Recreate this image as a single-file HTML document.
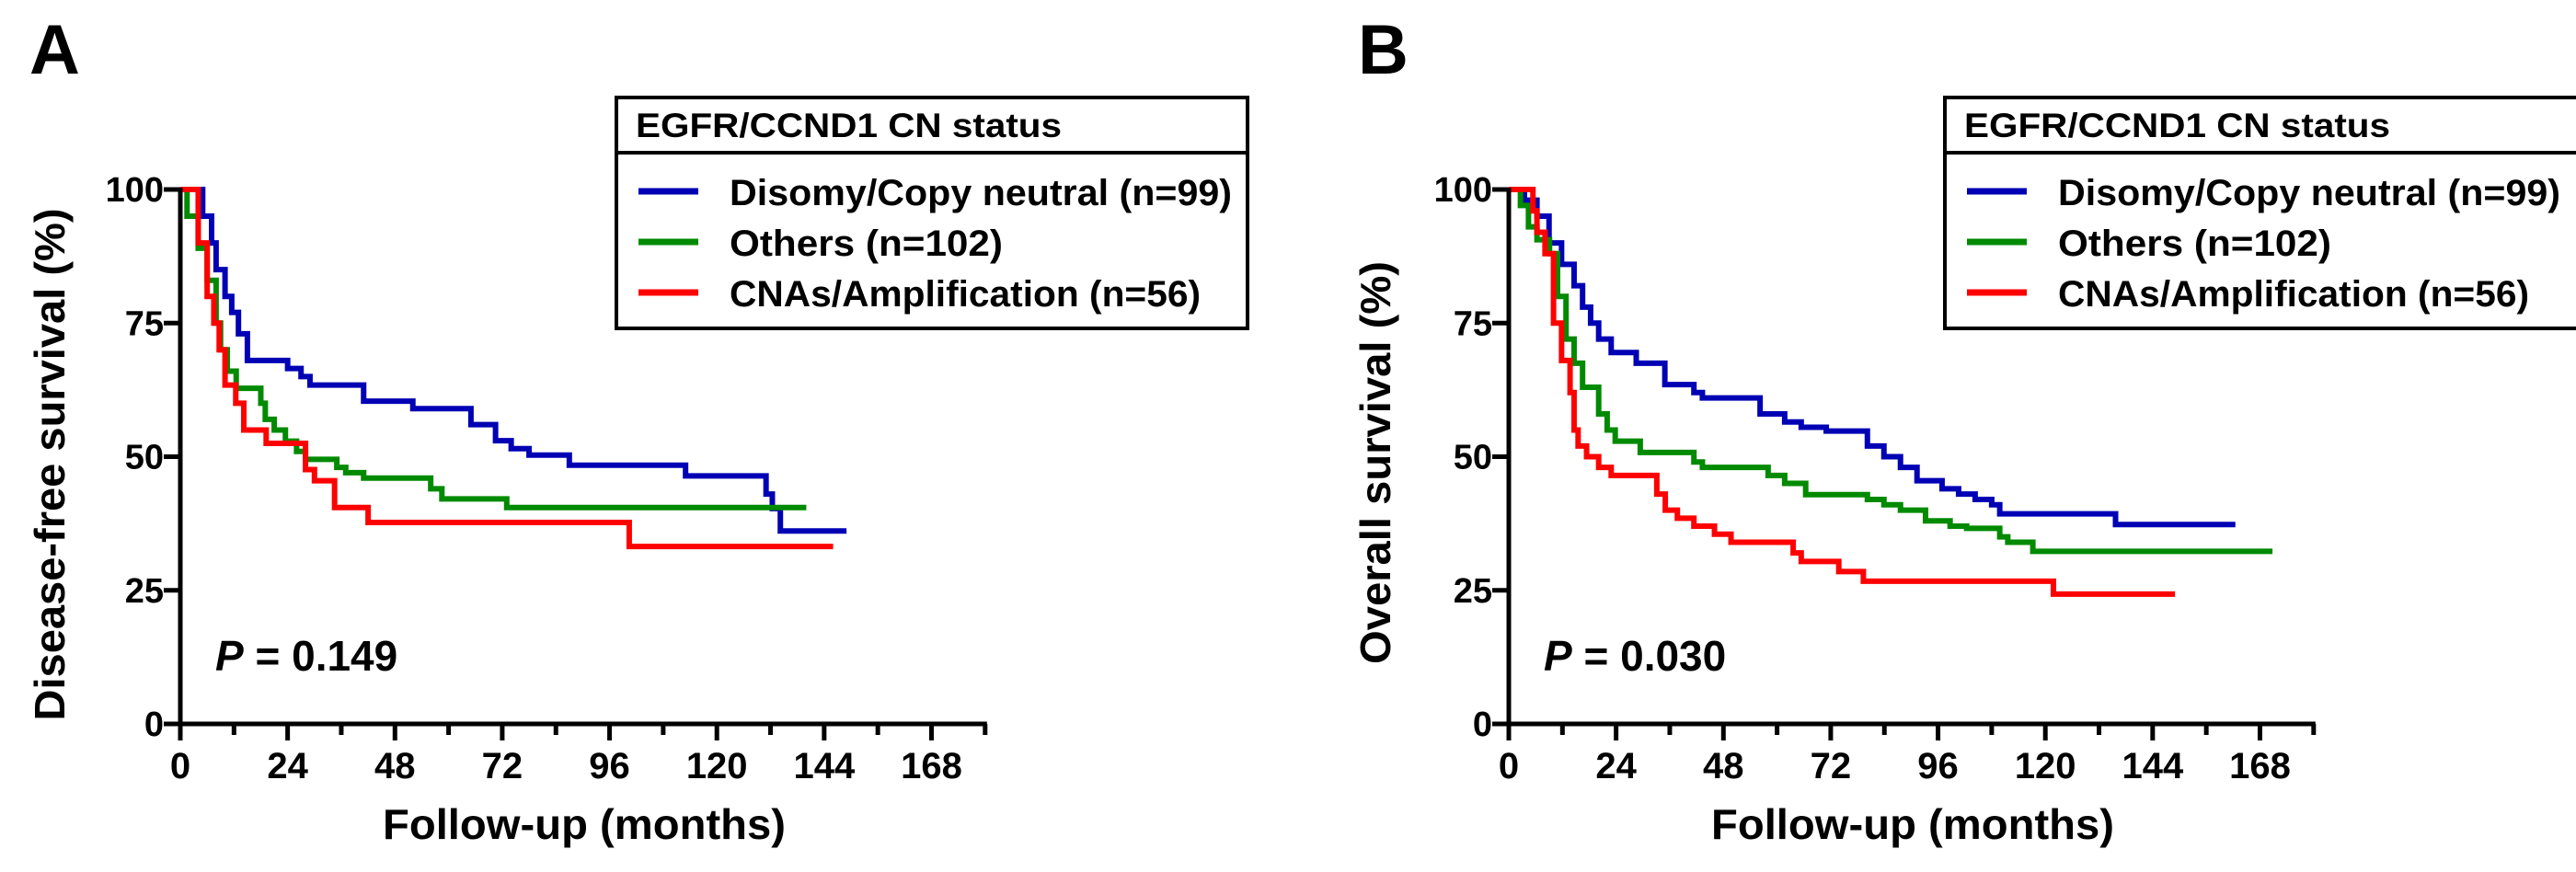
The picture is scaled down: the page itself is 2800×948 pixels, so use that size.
<!DOCTYPE html>
<html><head><meta charset="utf-8"><style>
html,body{margin:0;padding:0;background:#fff;}
svg{display:block;}
text{font-family:"Liberation Sans",Arial,sans-serif;font-weight:bold;fill:#000;}
</style></head>
<body>
<svg id="fig" width="2800" height="948" viewBox="0 0 2800 948"></svg>
<script>
// ---- data (months, survival %) ----
const xTicks = [0, 24, 48, 72, 96, 120, 144, 168];
const yTicks = [0, 25, 50, 75, 100];
const seriesNames = ["Disomy/Copy neutral (n=99)", "Others (n=102)", "CNAs/Amplification (n=56)"];

const aBlueT = [0,5,7,8,10,11.5,13,15,24,27,29,41,52,65,70.5,74,78,87,113,131,132.4,134.2];
const aBlueS = [100,95,90,85,80,77,73,68,66.5,65,63.4,60.4,59,56,53,51.5,50.3,48.4,46.4,43,40.3,36.1];
const aBlueEnd = 149;
const aGreenT = [0,1.5,4,6,8,9,10.5,12.5,18,19,21,23.5,26,28,35,37,41,56,58.5,73];
const aGreenS = [100,95,89,83,75,70,66,62.8,60,57,55,52.9,51,49.5,48,47,46,44,42.1,40.5];
const aGreenEnd = 140;
const aRedT = [0,4,6,7.5,8.7,10,12.4,14.2,19.2,28,30,34.5,42,100.4];
const aRedS = [100,90,80,75,70,63.4,60,55,52.5,47.6,45.5,40.5,37.7,33.2];
const aRedEnd = 146;

const bBlueT = [0,3.5,6.3,9,11.8,14.6,16.5,18.3,20.1,22.9,28.5,34.9,41.4,43.3,56.2,61.7,65.4,71,80.2,83.9,87.6,91.3,96.9,100.6,104.3,108,109.8,135.7];
const bBlueS = [100,98,95,90,86,82,78,75,72,69.5,67.5,63.5,62,61,58,56.5,55.5,54.8,52,50,48,45.5,44,43,42,41,39.3,37.3];
const bBlueEnd = 162.5;
const bGreenT = [0,2.6,4.4,6.3,9.1,10.9,12.8,14.6,16.5,20.1,22,23.8,29.4,41.4,43.3,58,61.7,66.4,80.2,83.9,87.6,93.2,98.7,102.4,109.8,111.6,117.2];
const bGreenS = [100,97,93,90.6,88,80,72,67.5,63,58,55,52.9,50.8,49,48,46.5,45,42.9,42,41,40,38,37,36.6,35,34,32.3];
const bGreenEnd = 170.8;
const bRedT = [0,5.4,6.3,8.1,10,11.8,13.7,14.6,15.5,17.4,20.1,22.9,33.1,35,37.7,41.4,46,49.7,63.6,65.4,73.8,79.3,121.8];
const bRedS = [100,96,92,88,75,68,62,55,52,50,48,46.5,43,40,38.5,37,35.5,34,32,30.4,28.5,26.7,24.3];
const bRedEnd = 149;

const NS = "http://www.w3.org/2000/svg";
const svg = document.getElementById("fig");
const COLORS = ["#0000b4", "#008a00", "#ff0000"];

function mk(tag, attrs, parent, txt) {
  const e = document.createElementNS(NS, tag);
  for (const k in attrs) e.setAttribute(k, attrs[k]);
  if (txt !== undefined) e.textContent = txt;
  (parent || svg).appendChild(e);
  return e;
}

function panel(cfg) {
  const ox = cfg.ox;
  const X0 = ox + 196, PXM = 4.86, Y0 = 787, Y100 = 206;
  const xs = m => X0 + m * PXM;
  const ys = s => Y0 - (Y0 - Y100) * s / 100;
  const g = mk("g", {});
  
  

  const lab = mk("text", {x: ox + 32, y: 80, "font-size": 76}, g, cfg.letter);
  
  

  const sets = cfg.series;
  sets.forEach((sr, i) => {
    let d = "M" + xs(sr.t[0]) + "," + ys(sr.s[0]);
    for (let k = 1; k < sr.t.length; k++) {
      d += " H" + xs(sr.t[k]) + " V" + ys(sr.s[k]);
    }
    d += " H" + xs(sr.end);
    const p = mk("path", {d: d, fill: "none", stroke: COLORS[i], "stroke-width": 6, "stroke-linejoin": "miter"}, g);
    
    
  });

  const ax = mk("g", {stroke: "#000", "stroke-width": 5, fill: "none"}, g);
  
  
  mk("line", {x1: X0, y1: Y100 - 2, x2: X0, y2: Y0 + 2}, ax);
  mk("line", {x1: X0 - 2, y1: Y0, x2: xs(180) + 2, y2: Y0}, ax);
  yTicks.forEach(v => {
    mk("line", {x1: X0 - 18, y1: ys(v), x2: X0, y2: ys(v)}, ax);
    const t = mk("text", {x: X0 - 18, y: ys(v) + 13, "font-size": 38, "text-anchor": "end", stroke: "none"}, g, String(v));
    
    
  });
  for (let m = 0; m <= 180; m += 12) {
    const major = (m % 24 === 0);
    mk("line", {x1: xs(m), y1: Y0, x2: xs(m), y2: Y0 + (major ? 18 : 12)}, ax);
  }
  xTicks.forEach(v => {
    const t = mk("text", {x: xs(v), y: 846, "font-size": 40, "text-anchor": "middle"}, g, String(v));
    
    
  });

  const xt = mk("text", {x: ox + 635, y: 912, "font-size": 46, "text-anchor": "middle", textLength: 438, lengthAdjust: "spacingAndGlyphs"}, g, "Follow-up (months)");
  
  

  const yt = mk("text", {x: 0, y: 0, "font-size": 46, "text-anchor": "middle", textLength: cfg.ylen, lengthAdjust: "spacingAndGlyphs",
    transform: "translate(" + (ox + cfg.ylx) + "," + cfg.ylc + ") rotate(-90)"}, g, cfg.ylabel);
  
  

  const pv = mk("text", {x: ox + 234, y: 729, "font-size": 46}, g);
  
  
  mk("tspan", {"font-style": "italic"}, pv, "P");
  mk("tspan", {}, pv, " = " + cfg.p);

  const lg = mk("g", {}, g);
  
  
  mk("rect", {x: ox + 670, y: 106, width: cfg.lw, height: 251, fill: "#fff", stroke: "#000", "stroke-width": 4}, lg);
  mk("line", {x1: ox + 670, y1: 166, x2: ox + 670 + cfg.lw, y2: 166, stroke: "#000", "stroke-width": 4}, lg);
  const lt = mk("text", {x: ox + 691, y: 149, "font-size": 37, textLength: 463, lengthAdjust: "spacingAndGlyphs"}, lg, "EGFR/CCND1 CN status");
  
  
  const lens = [546, 297, 512];
  seriesNames.forEach((n, i) => {
    const cy = 208 + i * 55;
    const e = mk("g", {}, lg);
    
    
    mk("line", {x1: ox + 694, y1: cy, x2: ox + 759, y2: cy, stroke: COLORS[i], "stroke-width": 7}, e);
    mk("text", {x: ox + 793, y: cy + 15, "font-size": 40, textLength: lens[i], lengthAdjust: "spacingAndGlyphs"}, e, n);
  });
}

panel({ox: 0, id: "dfs", letter: "A", ylabel: "Disease-free survival (%)", ylen: 557, ylx: 70, ylc: 505, p: "0.149", lw: 686,
  series: [{t: aBlueT, s: aBlueS, end: aBlueEnd}, {t: aGreenT, s: aGreenS, end: aGreenEnd}, {t: aRedT, s: aRedS, end: aRedEnd}]});
panel({ox: 1444, id: "os", letter: "B", ylabel: "Overall survival (%)", ylen: 438, ylx: 67, ylc: 503, p: "0.030", lw: 713,
  series: [{t: bBlueT, s: bBlueS, end: bBlueEnd}, {t: bGreenT, s: bGreenS, end: bGreenEnd}, {t: bRedT, s: bRedS, end: bRedEnd}]});
</script>
</body></html>
